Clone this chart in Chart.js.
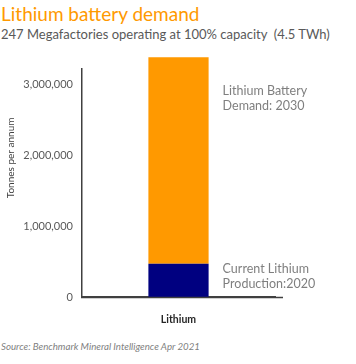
<!DOCTYPE html>
<html><head><meta charset="utf-8">
<script src="https://cdn.jsdelivr.net/npm/chart.js@4.4.1/dist/chart.umd.min.js"></script>
<style>
html,body{margin:0;padding:0;background:#fff;width:356px;height:364px;overflow:hidden;font-family:Lato,"Open Sans",sans-serif;}
#title{position:absolute;left:1px;top:2px;font-size:19px;color:#FF9900;white-space:nowrap;}
#sub{position:absolute;left:1px;top:26px;font-size:13px;color:#595959;white-space:nowrap;}
#src{position:absolute;left:1px;top:340px;font-size:9.7px;font-style:italic;color:#7f7f7f;white-space:nowrap;}
#wrap{position:absolute;left:0;top:45px;width:356px;height:290px;}
</style></head>
<body>
<div id="title">Lithium battery demand</div>
<div id="sub">247 Megafactories operating at 100% capacity&nbsp; (4.5 TWh)</div>
<div id="wrap"><canvas id="c"></canvas></div>
<div id="src">Source: Benchmark Mineral Intelligence Apr 2021</div>
<script>
const categories = ["Lithium"];
const production2020 = [470000];
const demandGap2030 = [2920000];
const seriesNames = ["Current Lithium Production:2020", "Lithium Battery Demand: 2030"];
const annotationLines = [["Current Lithium", "Production:2020"], ["Lithium Battery", "Demand: 2030"]];
const yTicks = [0, 1000000, 2000000, 3000000];
const yAxisTop = 3225000;
const yTitle = "Tonnes per annum";

const annot = {
  id: 'annot',
  afterDatasetsDraw(chart) {
    const ctx = chart.ctx;
    ctx.save();
    ctx.font = '12.5px Lato, "Open Sans", sans-serif';
    ctx.fillStyle = '#7f7f7f';
    ctx.textBaseline = 'middle';
    ctx.textAlign = 'left';
    const offsets = [5, 34];
    chart.data.datasets.forEach((ds, i) => {
      const el = chart.getDatasetMeta(i).data[0];
      const x = el.x + el.width / 2 + 14;
      annotationLines[i].forEach((t, j) => {
        ctx.fillText(t, x, el.y + offsets[i] + j * 15);
      });
    });
    // y axis title
    const ca = chart.chartArea;
    ctx.save();
    ctx.translate(11, ca.top + (ca.bottom - ca.top) * 0.39);
    ctx.rotate(-Math.PI / 2);
    ctx.textAlign = 'center';
    ctx.fillStyle = '#404040';
    ctx.font = '10px Lato, "Open Sans", sans-serif';
    ctx.fillText(yTitle, 0, 0);
    ctx.restore();
    // x baseline extension
    ctx.strokeStyle = '#404040';
    ctx.lineWidth = 1.5;
    ctx.beginPath();
    ctx.moveTo(ca.left - 1, ca.bottom + 0.5);
    ctx.lineTo(ca.right + 8, ca.bottom + 0.5);
    ctx.stroke();
    ctx.restore();
  }
};

new Chart(document.getElementById('c'), {
  type: 'bar',
  data: {
    labels: categories,
    datasets: [
      { label: seriesNames[0], data: production2020, backgroundColor: '#000080', clip: false,
        barPercentage: 0.6, categoryPercentage: 0.52 },
      { label: seriesNames[1], data: demandGap2030, backgroundColor: '#FF9900', clip: false,
        barPercentage: 0.6, categoryPercentage: 0.52 }
    ]
  },
  options: {
    responsive: true,
    maintainAspectRatio: false,
    animation: false,
    layout: { padding: { left: 0, right: 81, top: 24, bottom: 0 } },
    plugins: { legend: { display: false }, tooltip: { enabled: false } },
    scales: {
      x: {
        stacked: true,
        grid: { display: false, drawTicks: false },
        border: { display: true, color: '#404040', width: 1.5 },
        ticks: { padding: 16, color: '#262626', font: { family: 'Lato, "Open Sans", sans-serif', size: 10.5, weight: 'bold' } },
        afterFit(s) { s.height = 38; }
      },
      y: {
        stacked: true,
        min: 0,
        max: yAxisTop,
        grid: { display: false, drawTicks: false },
        border: { display: true, color: '#404040', width: 1.5 },
        afterBuildTicks(s) { s.ticks = yTicks.map(v => ({ value: v })); },
        ticks: {
          padding: 9,
          color: '#595959',
          font: { family: 'Lato, "Open Sans", sans-serif', size: 11 },
          callback: v => v.toLocaleString('en-US')
        },
        afterFit(s) { s.width = 82; }
      }
    }
  },
  plugins: [annot]
});
</script>
</body></html>
